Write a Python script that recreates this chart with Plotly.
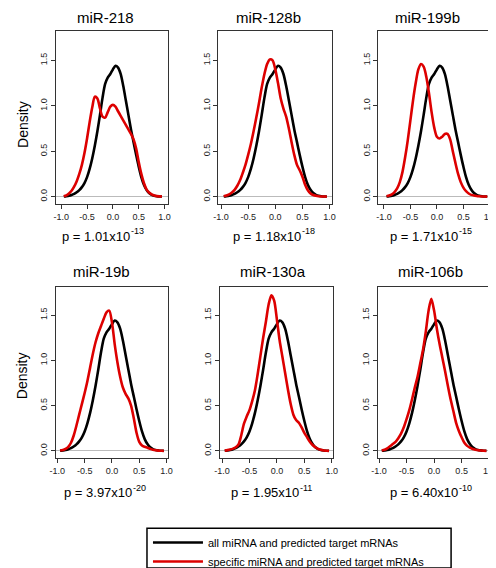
import plotly.graph_objects as go

W, H = 496, 568

# ---------------- data ----------------
x_vals = [-0.95, -0.90, -0.85, -0.80, -0.75, -0.70, -0.65, -0.60, -0.55, -0.50,
          -0.45, -0.40, -0.35, -0.30, -0.25, -0.20, -0.15, -0.10, -0.05, 0.00,
          0.05, 0.10, 0.15, 0.20, 0.25, 0.30, 0.35, 0.40, 0.45, 0.50,
          0.55, 0.60, 0.65, 0.70, 0.75, 0.80, 0.85, 0.90, 0.95]

all_density = [0.001, 0.005, 0.010, 0.018, 0.030, 0.048, 0.072, 0.105, 0.150, 0.215,
               0.305, 0.420, 0.560, 0.720, 0.900, 1.090, 1.240, 1.310, 1.350, 1.400,
               1.440, 1.420, 1.350, 1.220, 1.060, 0.900, 0.740, 0.600, 0.460, 0.330,
               0.215, 0.130, 0.075, 0.040, 0.020, 0.010, 0.005, 0.002, 0.001]

mir218 = [0.005, 0.015, 0.035, 0.065, 0.11, 0.17, 0.25, 0.35, 0.48, 0.64,
          0.82, 0.98, 1.10, 1.08, 0.97, 0.88, 0.87, 0.93, 0.99, 1.01,
          0.99, 0.94, 0.89, 0.84, 0.79, 0.74, 0.69, 0.63, 0.53, 0.38,
          0.25, 0.15, 0.08, 0.045, 0.025, 0.012, 0.006, 0.003, 0.001]

mir128b = [0.004, 0.012, 0.025, 0.045, 0.075, 0.12, 0.18, 0.26, 0.35, 0.46,
           0.58, 0.72, 0.87, 1.03, 1.20, 1.35, 1.46, 1.51, 1.50, 1.40,
           1.25, 1.08, 0.97, 0.88, 0.75, 0.60, 0.46, 0.35, 0.29, 0.22,
           0.13, 0.07, 0.035, 0.018, 0.009, 0.004, 0.002, 0.001, 0.0]

mir199b = [0.005, 0.012, 0.025, 0.05, 0.09, 0.16, 0.27, 0.43, 0.62, 0.84,
           1.06, 1.25, 1.40, 1.46, 1.43, 1.32, 1.14, 0.93, 0.76, 0.66,
           0.64, 0.66, 0.69, 0.69, 0.63, 0.50, 0.37, 0.25, 0.16, 0.10,
           0.06, 0.035, 0.02, 0.012, 0.007, 0.004, 0.002, 0.001, 0.0]

mir19b = [0.004, 0.01, 0.022, 0.045, 0.09, 0.17, 0.28, 0.40, 0.52, 0.64,
          0.77, 0.92, 1.07, 1.20, 1.30, 1.38, 1.46, 1.53, 1.55, 1.42,
          1.18, 0.98, 0.82, 0.70, 0.63, 0.58, 0.50, 0.36, 0.20, 0.10,
          0.06, 0.045, 0.035, 0.022, 0.012, 0.006, 0.003, 0.001, 0.0]

mir130a = [0.003, 0.008, 0.015, 0.025, 0.04, 0.07, 0.17, 0.30, 0.38, 0.45,
           0.55, 0.67, 0.85, 1.05, 1.25, 1.43, 1.62, 1.72, 1.66, 1.45,
           1.22, 1.04, 0.86, 0.68, 0.52, 0.40, 0.34, 0.31, 0.26, 0.20,
           0.15, 0.10, 0.065, 0.04, 0.022, 0.012, 0.005, 0.002, 0.0]

mir106b = [0.004, 0.012, 0.028, 0.05, 0.075, 0.10, 0.14, 0.19, 0.26, 0.35,
           0.45, 0.57, 0.70, 0.82, 0.97, 1.12, 1.32, 1.55, 1.68, 1.55,
           1.35, 1.18, 1.03, 0.88, 0.72, 0.57, 0.44, 0.31, 0.22, 0.15,
           0.09, 0.055, 0.035, 0.02, 0.012, 0.007, 0.004, 0.002, 0.0]

mirna_names = ["miR-218", "miR-128b", "miR-199b", "miR-19b", "miR-130a", "miR-106b"]
specific_density = [mir218, mir128b, mir199b, mir19b, mir130a, mir106b]
p_mantissa = ["1.01", "1.18", "1.71", "3.97", "1.95", "6.40"]
p_exponent = ["-13", "-18", "-15", "-20", "-11", "-10"]

x_ticks = [-1.0, -0.5, 0.0, 0.5, 1.0]
x_tick_labels = ["-1.0", "-0.5", "0.0", "0.5", "1.0"]
y_ticks = [0.0, 0.5, 1.0, 1.5]
y_tick_labels = ["0.0", "0.5", "1.0", "1.5"]

legend_labels = ["all miRNA and predicted target mRNAs",
                 "specific miRNA and predicted target mRNAs"]

# ---------------- layout geometry (pixels) ----------------
panel_box_x = [(43, 158), (209, 325.7), (372.7, 490), (42.7, 157.7), (210.7, 326.7), (372, 491)]
panel_xrange = [(-1.100, 1.076), (-1.049, 1.054), (-1.103, 1.061),
                (-1.029, 1.030), (-1.036, 1.030), (-1.023, 1.09)]
row_box_y = [(22.7, 197), (280.7, 453.3)]
row_yrange = [(-0.0765, 1.828), (-0.080, 1.814)]
title_pos = [(94, 10), (260, 10), (423, 10), (89, 265), (265, 265), (426, 265)]
p_pos = [(90, 230), (265, 230), (425, 230), (92, 488), (262, 488), (425, 488)]
density_pos = [(9, 117), (9, 370)]

RED = "#DD0000"
FONT = "Liberation Sans, Arial, sans-serif"
AX = "#333333"


def px_x(v):
    return v / W


def px_y(v):
    return 1 - v / H


fig = go.Figure()
annotations = []

for i in range(6):
    row = i // 3
    ax_id = "" if i == 0 else str(i + 1)
    xa, ya = "x" + ax_id, "y" + ax_id
    fig.add_trace(go.Scatter(
        x=x_vals, y=all_density, mode="lines", xaxis=xa, yaxis=ya,
        line=dict(color="black", width=2.6, shape="spline", smoothing=0.8),
        name=legend_labels[0], showlegend=(i == 0), hoverinfo="skip"))
    fig.add_trace(go.Scatter(
        x=x_vals, y=specific_density[i], mode="lines", xaxis=xa, yaxis=ya,
        line=dict(color=RED, width=2.6, shape="spline", smoothing=0.8),
        name=legend_labels[1], showlegend=(i == 0), hoverinfo="skip"))

    bx0, bx1 = panel_box_x[i]
    by0, by1 = row_box_y[row]
    common = dict(showline=True, mirror=True, linecolor=AX, linewidth=1.3,
                  ticks="outside", ticklen=4, tickwidth=1, tickcolor=AX,
                  showgrid=False, tickfont=dict(family=FONT, size=9, color="#222"))
    fig.update_layout(**{
        "xaxis" + ax_id: dict(domain=[px_x(bx0), px_x(bx1)], range=list(panel_xrange[i]),
                              tickvals=x_ticks, ticktext=x_tick_labels, zeroline=False,
                              anchor=ya, **common),
        "yaxis" + ax_id: dict(domain=[px_y(by1), px_y(by0)], range=list(row_yrange[row]),
                              tickvals=y_ticks, ticktext=y_tick_labels, tickangle=-90,
                              zeroline=True, zerolinecolor="#BBBBBB", zerolinewidth=1,
                              anchor=xa, **common),
    })

    tx, ty = title_pos[i]
    annotations.append(dict(text=mirna_names[i], x=px_x(tx), y=px_y(ty), xref="paper", yref="paper",
                            showarrow=False, xanchor="center", yanchor="middle",
                            font=dict(family=FONT, size=15, color="black")))
    # p-value: main part right-anchored, exponent left-anchored and raised
    qx, qy = p_pos[i]
    split_x = qx + 30
    annotations.append(dict(text="p = " + p_mantissa[i] + "x10",
                            x=px_x(split_x), y=px_y(qy), xref="paper", yref="paper",
                            showarrow=False, xanchor="right", yanchor="middle",
                            xshift=0, borderpad=0,
                            font=dict(family=FONT, size=13, color="black")))
    annotations.append(dict(text=p_exponent[i],
                            x=px_x(split_x), y=px_y(qy - 5), xref="paper", yref="paper",
                            showarrow=False, xanchor="left", yanchor="middle",
                            xshift=-1, borderpad=0,
                            font=dict(family=FONT, size=9, color="black")))

for dx, dy in density_pos:
    annotations.append(dict(text="Density", x=px_x(dx), y=px_y(dy), xref="paper", yref="paper",
                            showarrow=False, textangle=-90, xanchor="center", yanchor="middle",
                            font=dict(family=FONT, size=14, color="black")))

fig.update_layout(
    width=W, height=H, margin=dict(l=0, r=0, t=0, b=0),
    paper_bgcolor="white", plot_bgcolor="white",
    annotations=annotations,
    showlegend=True,
    legend=dict(x=px_x(137), y=px_y(524), xanchor="left", yanchor="top",
                bgcolor="rgba(0,0,0,0)", borderwidth=0,
                font=dict(family=FONT, size=11, color="black"),
                tracegroupgap=0, itemwidth=50),
    shapes=[dict(type="rect", xref="paper", yref="paper",
                 x0=px_x(136), x1=px_x(447), y0=px_y(564), y1=px_y(524),
                 line=dict(color="black", width=1.5))],
)

fig.write_html("out.html")
